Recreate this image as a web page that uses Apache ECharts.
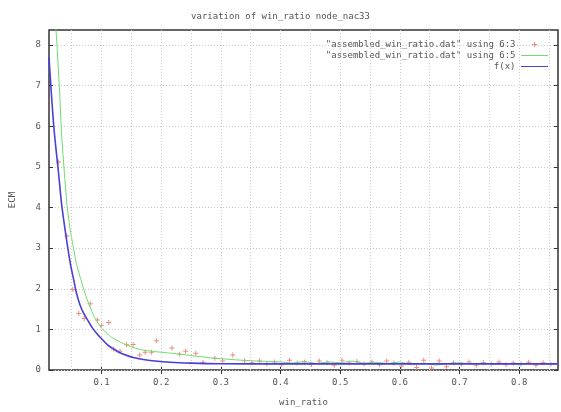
<!DOCTYPE html>
<html><head><meta charset="utf-8">
<script src="https://cdn.jsdelivr.net/npm/echarts@6/dist/echarts.min.js"></script>
<style>html,body{margin:0;padding:0;background:#fff}#c{width:561px;height:412px}</style>
</head><body><div id="c"></div>
<script>
var titleText = 'variation of win_ratio node_nac33';
var xName = 'win_ratio';
var yName = 'ECM';
var name1 = '"assembled_win_ratio.dat" using 6:3';
var name2 = '"assembled_win_ratio.dat" using 6:5';
var name3 = 'f(x)';
var xTicks = [0.1, 0.2, 0.3, 0.4, 0.5, 0.6, 0.7, 0.8];
var xMinorGrid = [0.05, 0.15, 0.25, 0.35, 0.45, 0.55, 0.65, 0.75, 0.85];
var yTicks = [0, 1, 2, 3, 4, 5, 6, 7, 8];

var pointsData = [
 [0.028,5.12],[0.042,3.30],[0.052,1.98],[0.062,1.39],[0.071,1.27],[0.081,1.63],[0.093,1.23],[0.100,1.10],
 [0.112,1.17],[0.120,0.52],[0.131,0.46],[0.142,0.62],[0.153,0.63],[0.164,0.37],[0.173,0.44],[0.184,0.44],
 [0.192,0.72],[0.218,0.54],[0.231,0.39],[0.241,0.46],[0.258,0.41],[0.270,0.19],[0.290,0.29],[0.303,0.22],
 [0.320,0.37],[0.340,0.23],
 [0.352,0.18],[0.365,0.22],[0.377,0.15],[0.39,0.2],[0.402,0.13],[0.415,0.24],[0.428,0.17],[0.44,0.2],
 [0.452,0.14],[0.465,0.22],[0.478,0.18],[0.49,0.12],[0.503,0.24],[0.515,0.17],[0.528,0.21],[0.54,0.15],
 [0.553,0.2],[0.566,0.13],[0.578,0.22],[0.59,0.17],[0.603,0.1],[0.615,0.19],[0.628,0.06],[0.64,0.24],
 [0.653,0.05],[0.666,0.22],[0.678,0.08],[0.69,0.18],[0.703,0.14],[0.716,0.2],[0.728,0.12],[0.74,0.18],
 [0.753,0.15],[0.766,0.2],[0.778,0.13],[0.79,0.17],[0.803,0.15],[0.816,0.19],[0.828,0.12],[0.84,0.18],[0.853,0.15]
];
var lineData = [
 [0.0225,8.6],[0.025,8.1],[0.030,6.8],[0.033,5.8],[0.038,4.8],[0.042,4.07],[0.047,3.5],[0.053,3.0],
 [0.058,2.6],[0.065,2.25],[0.072,1.9],[0.078,1.65],[0.088,1.3],[0.100,1.03],[0.115,0.82],[0.132,0.68],
 [0.150,0.57],[0.165,0.5],[0.185,0.46],[0.205,0.43],[0.225,0.4],[0.248,0.36],[0.265,0.33],[0.282,0.3],
 [0.30,0.28],[0.325,0.25],[0.36,0.22],[0.40,0.2],[0.42,0.17],[0.44,0.21],[0.46,0.16],[0.48,0.2],
 [0.50,0.18],[0.52,0.22],[0.54,0.17],[0.56,0.19],[0.58,0.16],[0.60,0.2],[0.62,0.13],[0.64,0.17],
 [0.66,0.12],[0.68,0.16],[0.70,0.18],[0.72,0.15],[0.74,0.17],[0.76,0.14],[0.78,0.16],[0.80,0.13],
 [0.82,0.16],[0.84,0.14],[0.865,0.15]
];
var fitData = [
 [0.012,7.7],[0.016,6.8],[0.020,6.0],[0.024,5.4],[0.028,4.85],[0.033,4.1],[0.038,3.55],[0.043,3.05],
 [0.048,2.6],[0.053,2.25],[0.058,1.9],[0.064,1.6],[0.070,1.4],[0.078,1.2],[0.085,1.03],[0.092,0.9],
 [0.100,0.77],[0.110,0.62],[0.120,0.52],[0.130,0.43],[0.142,0.36],[0.155,0.3],[0.170,0.26],[0.190,0.22],
 [0.215,0.19],[0.25,0.17],[0.3,0.155],[0.4,0.15],[0.6,0.15],[0.865,0.15]
];

var X_MIN = 0.012, X_MAX = 0.865, Y_MIN = 0, Y_MAX = 8.37;
var font = 'DejaVu Sans Mono';
var txtColor = '#555';
var gridLine = {color:'#cccccc', type:[1,2], width:1};
var lineIcon = 'path://M0,0h0.01v0.01h-0.01z M30,10h0.01v0.01h-0.01z M0,4.4h30v1.3h-30z';
var plusIcon = 'path://M0,0h0.01v0.01h-0.01z M30,10h0.01v0.01h-0.01z M12,4.5h6v1h-6z M14.5,2h1v6h-1z';

var vGrid = xTicks.concat(xMinorGrid).map(function(v){return {xAxis:v};});

var chart = echarts.init(document.getElementById('c'), null, {renderer:'canvas'});
chart.setOption({
  animation:false,
  backgroundColor:'#fff',
  title:{text:titleText, left:'center', top:7, textStyle:{fontFamily:font, fontSize:9, fontWeight:'normal', color:txtColor}},
  legend:{
    orient:'vertical', right:8, top:35, align:'right', itemGap:2, itemWidth:28, itemHeight:9,
    textStyle:{fontFamily:font, fontSize:9, color:txtColor},
    data:[{name:name1, icon:plusIcon},{name:name2, icon:lineIcon},{name:name3, icon:lineIcon}]
  },
  grid:{left:45, right:3, top:30, bottom:40, show:true, borderColor:'#333', borderWidth:1.5, backgroundColor:'#fff'},
  xAxis:[{
    type:'value', min:X_MIN, max:X_MAX,
    name:xName, nameLocation:'middle', nameGap:28,
    nameTextStyle:{fontFamily:font, fontSize:9, color:txtColor},
    axisLine:{show:false},
    axisTick:{show:true, inside:true, length:4, customValues:xTicks, lineStyle:{color:'#333'}},
    axisLabel:{customValues:xTicks, fontFamily:font, fontSize:9, color:txtColor, margin:8},
    splitLine:{show:false}
  },{
    type:'value', position:'top', min:X_MIN, max:X_MAX,
    axisLine:{show:false},
    axisTick:{show:true, inside:true, length:4, customValues:xTicks, lineStyle:{color:'#333'}},
    axisLabel:{show:false}, splitLine:{show:false}
  }],
  yAxis:[{
    type:'value', min:Y_MIN, max:Y_MAX, interval:0.5,
    name:yName, nameLocation:'middle', nameGap:32, nameRotate:90,
    nameTextStyle:{fontFamily:font, fontSize:9, color:txtColor},
    axisLine:{show:false},
    axisTick:{show:true, inside:true, length:4, customValues:yTicks, lineStyle:{color:'#333'}},
    axisLabel:{customValues:yTicks, fontFamily:font, fontSize:9, color:txtColor, margin:8},
    splitLine:{show:true, lineStyle:gridLine}
  },{
    type:'value', position:'right', min:Y_MIN, max:Y_MAX, interval:0.5,
    axisLine:{show:false},
    axisTick:{show:true, inside:true, length:4, customValues:yTicks, lineStyle:{color:'#333'}},
    axisLabel:{show:false}, splitLine:{show:false}
  }],
  series:[
    {name:name1, type:'scatter', data:pointsData, symbol:'path://M0,2h5v1h-5z M2,0h1v5h-1z', symbolSize:5,
     itemStyle:{color:'#e8705a'}, z:3,
     markLine:{silent:true, symbol:'none', label:{show:false}, lineStyle:gridLine, data:vGrid, animation:false}},
    {name:name2, type:'line', data:lineData, showSymbol:false, symbol:'none', clip:true,
     lineStyle:{color:'#70dc70', width:1}, itemStyle:{color:'#70dc70'}, z:4},
    {name:name3, type:'line', data:fitData, showSymbol:false, symbol:'none', clip:true, smooth:0.3,
     lineStyle:{color:'#4a3fd6', width:1.6}, itemStyle:{color:'#4a3fd6'}, z:5}
  ]
});
</script></body></html>
